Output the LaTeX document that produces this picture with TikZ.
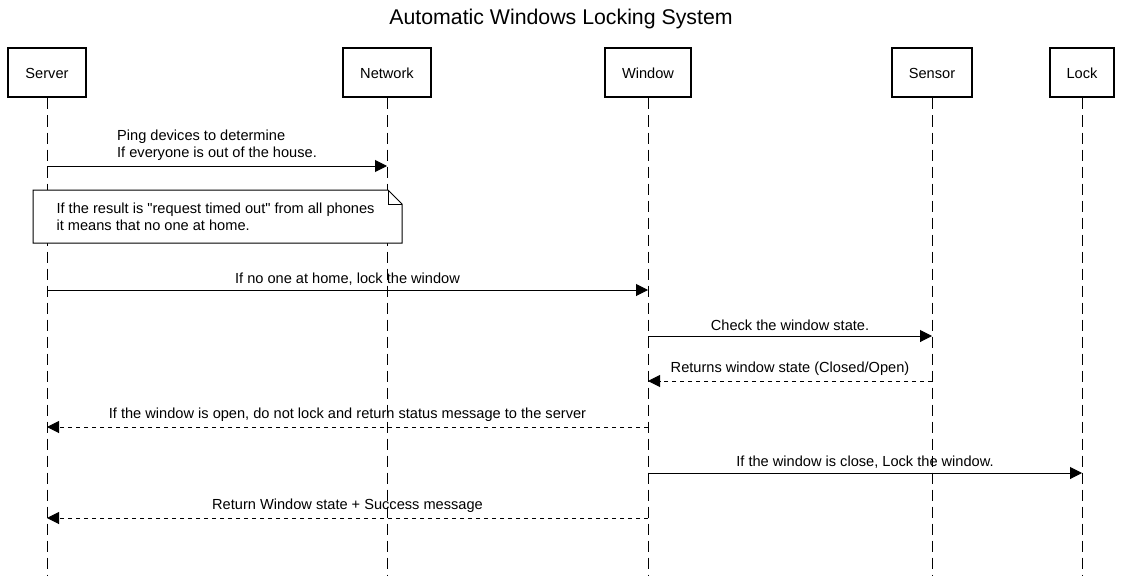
\documentclass[tikz,border=0pt]{standalone}
\usepackage{fontspec}
\setmainfont{Liberation Sans}[Ligatures=TeXOff]
\usetikzlibrary{arrows.meta}
\begin{document}
\begin{tikzpicture}[x=1pt,y=-1pt,
        font=\fontsize{14.6}{17}\selectfont,
        actor/.style={draw,line width=2pt,fill=white,minimum height=49pt,inner xsep=17pt},
        lifeline/.style={line width=1pt,dash pattern=on 11pt off 6pt},
        msg/.style={line width=1pt,-{Triangle[length=12pt,width=12pt]}},
        reply/.style={msg,dash pattern=on 4pt off 4pt},
        lbl/.style={midway,above,inner sep=4.5pt}]
    \useasboundingbox[fill=white](0,0) rectangle(1123,575);
    \node (title) at (561,19) {\fontsize{21.3}{25}\selectfont Automatic Windows Locking System};
    \node[actor] (srv) at (47,73) {Server};
    \node[actor] (net) at (387,73) {Network};
    \node[actor] (win) at (648,73) {Window};
    \node[actor] (sen) at (932,73) {Sensor};
    \node[actor] (lck) at (1082,73) {Lock};
    \foreach \a in {srv,net,win,sen,lck}{
        \draw[lifeline](\a.south)--(\a.south |- 0,575);
    }
    \draw[msg](srv |- 0,166)--(net |- 0,166)node[lbl,align=left]{Ping devices to determine\\If everyone is out of the house.};
    \draw[fill=white,line width=1pt](33,190)--(388,190)--(402,204)--(402,243)--(33,243)--cycle;
    \draw[line width=1pt](388,190)--(388,204)--(402,204);
    \node[anchor=west,align=left] (note) at (53,217) {If the result is "request timed out" from all phones\\it means that no one at home.};
    \draw[msg](srv |- 0,290)--(win |- 0,290)node[lbl]{If no one at home, lock the window};
    \draw[msg](win |- 0,336)--(sen |- 0,336)node[lbl]{Check the window state.};
    \draw[reply](sen |- 0,381)--(win |- 0,381)node[lbl]{Returns window state (Closed/Open)};
    \draw[reply](win |- 0,427)--(srv |- 0,427)node[lbl]{If the window is open, do not lock and return status message to the server};
    \draw[msg](win |- 0,473)--(lck |- 0,473)node[lbl]{If the window is close, Lock the window.};
    \draw[reply](win |- 0,518)--(srv |- 0,518)node[lbl]{Return Window state + Success message};
\end{tikzpicture}
\end{document}
